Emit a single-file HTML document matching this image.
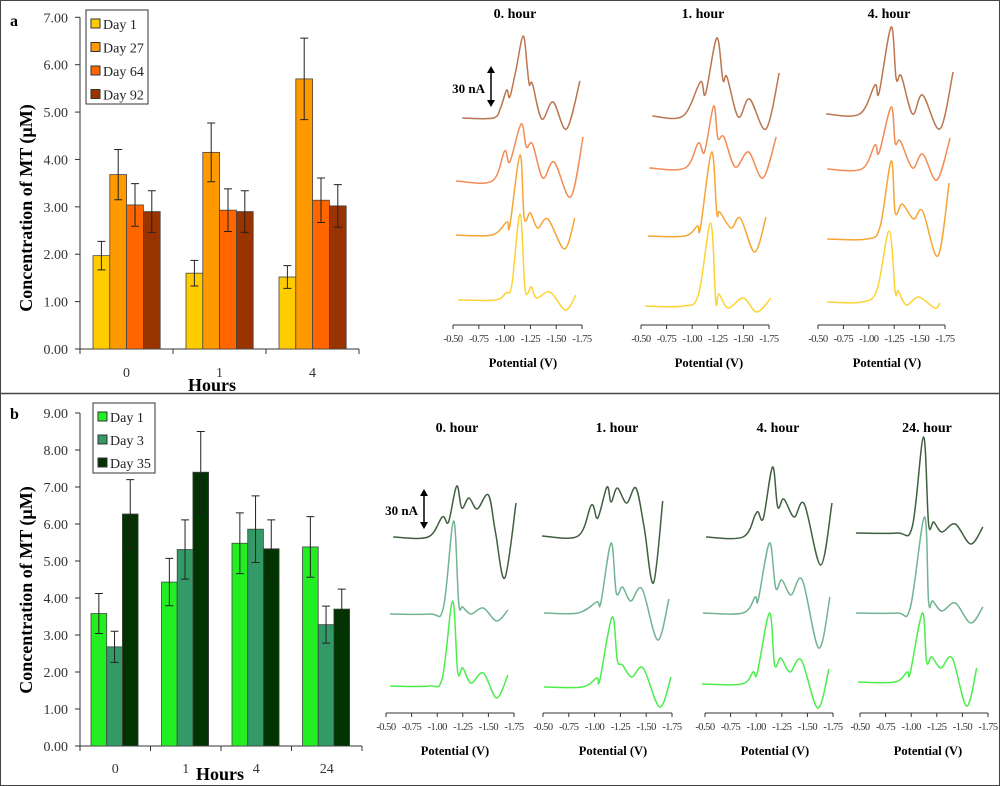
<!DOCTYPE html>
<html><head><meta charset="utf-8"><style>
html,body{margin:0;padding:0;background:#fff}
svg{display:block}
text{font-family:"Liberation Serif",serif}
</style></head><body>
<svg id="fig" width="1000" height="786" viewBox="0 0 1000 786" xmlns="http://www.w3.org/2000/svg">
<rect x="0.5" y="0.5" width="999" height="785" fill="#fff" stroke="#444" stroke-width="1"/>
<line x1="0" y1="393.5" x2="1000" y2="393.5" stroke="#444" stroke-width="1.5"/>
<text x="10" y="26" font-size="16" font-weight="bold">a</text>
<text x="10" y="419" font-size="16" font-weight="bold">b</text>
<g id="gA"></g>
<g id="gB"></g>
<g id="gV"></g>
</svg>
<script>
// ---------- Bar chart data ----------
const catsA = ["0","1","4"];
const seriesNamesA = ["Day 1","Day 27","Day 64","Day 92"];
const day1A = [1.97,1.60,1.52];
const day27A = [3.68,4.15,5.70];
const day64A = [3.04,2.93,3.14];
const day92A = [2.90,2.90,3.02];
const err1A = [0.30,0.27,0.24];
const err27A = [0.53,0.62,0.86];
const err64A = [0.45,0.45,0.47];
const err92A = [0.44,0.44,0.45];
const ticksA = ["0.00","1.00","2.00","3.00","4.00","5.00","6.00","7.00"];

const catsB = ["0","1","4","24"];
const seriesNamesB = ["Day 1","Day 3","Day 35"];
const day1B = [3.58,4.43,5.48,5.38];
const day3B = [2.68,5.31,5.86,3.28];
const day35B = [6.27,7.40,5.33,3.70];
const err1B = [0.54,0.64,0.82,0.82];
const err3B = [0.42,0.80,0.90,0.50];
const err35B = [0.93,1.10,0.78,0.54];
const ticksB = ["0.00","1.00","2.00","3.00","4.00","5.00","6.00","7.00","8.00","9.00"];

// ---------- Voltammogram data: [potential V, current a.u.] ----------
const vTicks = ["-0.50","-0.75","-1.00","-1.25","-1.50","-1.75"];
const a0c1=[[-0.59,0],[-0.89,0],[-0.96,10],[-1.02,28],[-1.05,21],[-1.11,48],[-1.18,82],[-1.22,50],[-1.24,33],[-1.27,34],[-1.36,-1],[-1.47,16],[-1.60,-11],[-1.73,37]];
const a0c2=[[-0.53,0],[-0.88,0],[-1.00,30],[-1.05,19],[-1.16,57],[-1.21,34],[-1.27,37],[-1.37,3],[-1.48,19],[-1.64,-16],[-1.76,44]];
const a0c3=[[-0.53,0],[-0.88,0],[-1.02,13],[-1.05,9],[-1.15,80],[-1.19,17],[-1.25,22],[-1.32,7],[-1.42,16],[-1.58,-14],[-1.68,17]];
const a0c4=[[-0.55,0],[-0.91,0],[-1.01,7],[-1.07,15],[-1.15,86],[-1.20,10],[-1.26,13],[-1.31,2],[-1.44,8],[-1.59,-10],[-1.69,5]];
const a1c1=[[-0.61,0],[-0.91,0],[-1.08,34],[-1.13,22],[-1.24,78],[-1.30,36],[-1.34,39],[-1.45,-1],[-1.56,17],[-1.72,-13],[-1.85,43]];
const a1c2=[[-0.58,0],[-0.93,0],[-1.06,25],[-1.12,16],[-1.21,62],[-1.25,30],[-1.31,31],[-1.42,1],[-1.55,16],[-1.69,-10],[-1.82,31]];
const a1c3=[[-0.57,0],[-0.93,0],[-1.05,10],[-1.08,8],[-1.19,84],[-1.24,23],[-1.27,24],[-1.38,8],[-1.47,18],[-1.61,-16],[-1.72,19]];
const a1c4=[[-0.54,0],[-0.91,0],[-1.06,11],[-1.18,83],[-1.23,4],[-1.26,12],[-1.35,-2],[-1.50,8],[-1.63,-6],[-1.77,8]];
const a4c1=[[-0.58,0],[-0.91,0],[-1.06,29],[-1.10,21],[-1.22,87],[-1.27,35],[-1.32,38],[-1.43,0],[-1.53,19],[-1.70,-15],[-1.83,42]];
const a4c2=[[-0.59,0],[-0.93,0],[-1.06,24],[-1.10,16],[-1.22,62],[-1.26,26],[-1.31,28],[-1.43,1],[-1.53,15],[-1.67,-11],[-1.80,31]];
const a4c3=[[-0.59,0],[-0.98,0],[-1.11,12],[-1.22,78],[-1.26,26],[-1.33,35],[-1.44,20],[-1.53,28],[-1.68,-17],[-1.79,56]];
const a4c4=[[-0.59,0],[-0.93,0],[-1.08,12],[-1.20,71],[-1.26,10],[-1.29,11],[-1.37,-3],[-1.49,5],[-1.65,-6],[-1.70,-1]];
const b0c1=[[-0.57,0],[-0.91,0],[-1.05,20],[-1.11,15],[-1.19,51],[-1.24,29],[-1.31,39],[-1.39,28],[-1.50,42],[-1.57,4],[-1.66,-41],[-1.77,34]];
const b0c2=[[-0.54,0],[-0.93,0],[-1.06,6],[-1.16,93],[-1.21,11],[-1.25,7],[-1.33,0],[-1.45,6],[-1.58,-7],[-1.69,4]];
const b0c3=[[-0.54,0],[-0.92,0],[-1.05,8],[-1.15,85],[-1.20,14],[-1.25,18],[-1.33,3],[-1.45,13],[-1.58,-12],[-1.69,11]];
const b1c1=[[-0.49,0],[-0.84,0],[-0.97,31],[-1.03,18],[-1.12,49],[-1.16,34],[-1.22,48],[-1.31,33],[-1.40,48],[-1.48,9],[-1.57,-47],[-1.66,35]];
const b1c2=[[-0.51,0],[-0.84,0],[-1.02,11],[-1.06,10],[-1.16,70],[-1.21,20],[-1.27,26],[-1.35,12],[-1.46,24],[-1.61,-27],[-1.72,14]];
const b1c3=[[-0.51,0],[-0.88,0],[-1.02,9],[-1.05,7],[-1.17,70],[-1.22,27],[-1.27,22],[-1.36,10],[-1.47,19],[-1.63,-20],[-1.74,10]];
const b4c1=[[-0.51,0],[-0.87,0],[-0.99,22],[-1.02,25],[-1.07,19],[-1.16,70],[-1.21,30],[-1.27,38],[-1.37,20],[-1.47,33],[-1.63,-28],[-1.74,34]];
const b4c2=[[-0.48,0],[-0.87,0],[-0.99,16],[-1.02,13],[-1.13,70],[-1.19,25],[-1.25,33],[-1.34,18],[-1.45,33],[-1.61,-35],[-1.72,16]];
const b4c3=[[-0.47,0],[-0.86,0],[-0.97,12],[-1.01,11],[-1.13,71],[-1.18,19],[-1.24,26],[-1.33,12],[-1.44,24],[-1.60,-24],[-1.71,15]];
const b24c1=[[-0.46,0],[-0.86,0],[-1.01,6],[-1.12,96],[-1.17,9],[-1.22,11],[-1.30,1],[-1.43,9],[-1.58,-11],[-1.70,6]];
const b24c2=[[-0.46,0],[-0.86,0],[-0.99,5],[-1.13,96],[-1.17,11],[-1.21,12],[-1.30,2],[-1.43,10],[-1.58,-10],[-1.70,6]];
const b24c3=[[-0.48,0],[-0.84,0],[-0.96,10],[-0.99,9],[-1.11,69],[-1.15,20],[-1.20,25],[-1.29,14],[-1.40,24],[-1.54,-24],[-1.64,14]];

const NS="http://www.w3.org/2000/svg";
function mk(tag,attrs,parent){const e=document.createElementNS(NS,tag);for(const k in attrs)e.setAttribute(k,attrs[k]);parent.appendChild(e);return e;}

function barChart(g,o){
  const y=v=>o.y0-(v/o.max)*(o.y0-o.yTop);
  // axes
  let ax=mk('line',{x1:o.x0,y1:o.yTop,x2:o.x0,y2:o.y0,stroke:'#333'},g);
  
  
  let bx=mk('line',{x1:o.x0-5,y1:o.y0,x2:o.x1,y2:o.y0,stroke:'#333'},g);
  
  
  o.ticks.forEach((t,i)=>{
    const yy=y(i);
    const tl=mk('line',{x1:o.x0-5,y1:yy,x2:o.x0,y2:yy,stroke:'#333'},g);
    
    
    const tx=mk('text',{x:o.x0-12,y:yy+5,'font-size':14,'text-anchor':'end',fill:'#333'},g);
    
    
    tx.textContent=t;
  });
  const n=o.cats.length, gw=(o.x1-o.x0)/n;
  for(let c=0;c<=n;c++){
    const xx=o.x0+c*gw;
    const tl=mk('line',{x1:xx,y1:o.y0,x2:xx,y2:o.y0+5,stroke:'#333'},g);
    
    
  }
  o.cats.forEach((c,i)=>{
    const tx=mk('text',{x:o.x0+gw*(i+0.5)+(o.labelShift?o.labelShift[i]:0),y:o.labY,'font-size':14,'text-anchor':'middle',fill:'#333'},g);
    
    
    tx.textContent=c;
  });
  const ns=o.series.length;
  o.series.forEach((s,si)=>{
    s.forEach((v,i)=>{
      const bx0=o.x0+gw*i+o.pad+si*o.bw;
      const r=mk('rect',{x:bx0,y:y(v),width:o.bw,height:o.y0-y(v),fill:o.colors[si],stroke:'#444','stroke-width':0.8},g);
      
      
      const e=o.errs[si][i], cx=bx0+o.bw/2;
      const el=mk('path',{d:`M${cx},${y(v+e)}V${y(v-e)}M${cx-4},${y(v+e)}H${cx+4}M${cx-4},${y(v-e)}H${cx+4}`,stroke:'#222',fill:'none','stroke-width':1},g);
      
      
    });
  });
  // legend
  const lg=mk('g',{},g);
  
  
  mk('rect',{x:o.lx,y:o.ly,width:o.lw,height:o.lh,fill:'#fff',stroke:'#333'},lg);
  o.names.forEach((nm,i)=>{
    const ey=o.ly+14+i*o.lstep;
    const en=mk('g',{},lg);
    
    
    mk('rect',{x:o.lx+5,y:ey-5,width:9,height:9,fill:o.colors[i],stroke:'#333'},en);
    const t=mk('text',{x:o.lx+17,y:ey+5,'font-size':14,fill:'#222'},en);
    t.textContent=nm;
  });
  const yt=mk('text',{x:0,y:0,'font-size':18,'font-weight':'bold','text-anchor':'middle',transform:`translate(${o.ytX},${o.ytY}) rotate(-90)`},g);
  
  
  yt.textContent='Concentration of MT (\u00b5M)';
  const xt=mk('text',{x:o.xtX,y:o.xtY,'font-size':18,'font-weight':'bold','text-anchor':'middle'},g);
  
  
  xt.textContent='Hours';
}

barChart(document.getElementById('gA'),{x0:80,x1:359,y0:349,yTop:17.3,max:7,ticks:ticksA,cats:catsA,
  series:[day1A,day27A,day64A,day92A],errs:[err1A,err27A,err64A,err92A],names:seriesNamesA,
  colors:['#ffcc00','#ff9900','#ff6600','#993300'],bw:16.8,pad:13,labY:377,
  lx:86,ly:10,lw:62,lh:94,lstep:23.5,ytX:32,ytY:208,xtX:212,xtY:391});
barChart(document.getElementById('gB'),{x0:80,x1:362,y0:746,yTop:413,max:9,ticks:ticksB,cats:catsB,
  series:[day1B,day3B,day35B],errs:[err1B,err3B,err35B],names:seriesNamesB,
  colors:['#22ee22','#339966','#003300'],bw:15.7,pad:11,labY:773,labelShift:[0,0,0,0],
  lx:93,ly:403,lw:62,lh:70,lstep:23,ytX:32,ytY:590,xtX:220,xtY:780});

function smooth(pts){
  let d=`M${pts[0][0]},${pts[0][1]}`;
  for(let i=0;i<pts.length-1;i++){
    const p0=pts[i-1]||pts[i],p1=pts[i],p2=pts[i+1],p3=pts[i+2]||p2;
    const c1=[p1[0]+(p2[0]-p0[0])/6,p1[1]+(p2[1]-p0[1])/6];
    const c2=[p2[0]-(p3[0]-p1[0])/6,p2[1]-(p3[1]-p1[1])/6];
    d+=`C${c1[0].toFixed(1)},${c1[1].toFixed(1)} ${c2[0].toFixed(1)},${c2[1].toFixed(1)} ${p2[0].toFixed(1)},${p2[1].toFixed(1)}`;
  }
  return d;
}

const gV=document.getElementById('gV');
function volt(o){
  const g=mk('g',{},gV);
  
  
  const xs=v=>o.x0+(-0.5-v)/1.25*(o.x1-o.x0);
  const ax=mk('line',{x1:o.x0,y1:o.ay,x2:o.x1,y2:o.ay,stroke:'#333'},g);
  
  
  vTicks.forEach(t=>{
    const xx=xs(parseFloat(t));
    mk('line',{x1:xx,y1:o.ay,x2:xx,y2:o.ay+4,stroke:'#333'},g);
    const tx=mk('text',{x:xx,y:o.ay+17,'font-size':10.5,'text-anchor':'middle',fill:'#333','letter-spacing':'-0.5'},g);
    
    
    tx.textContent=t;
  });
  const tt=mk('text',{x:o.tx,y:o.ty,'font-size':14,'font-weight':'bold','text-anchor':'middle'},g);
  
  
  tt.textContent=o.title;
  const pl=mk('text',{x:o.px,y:o.ay+42,'font-size':12.5,'font-weight':'bold','text-anchor':'middle'},g);
  
  
  pl.textContent='Potential (V)';
  o.curves.forEach((c,i)=>{
    const pts=c.map(p=>[xs(p[0]),o.bases[i]-p[1]]);
    const pa=mk('path',{d:smooth(pts),fill:'none',stroke:o.colors[i],'stroke-width':1.5},g);
    
    
  });
}
const colA=['#bb7650','#f28c55','#f7a535','#fcd436'];
const colB=['#3f5f3f','#72b394','#4cee4c'];
volt({id:'a-0h',title:'0. hour',x0:453,x1:582,ay:325,tx:515,ty:18,px:523,bases:[118,181,235,300],colors:colA,curves:[a0c1,a0c2,a0c3,a0c4]});
volt({id:'a-1h',title:'1. hour',x0:641,x1:769,ay:325,tx:703,ty:18,px:709,bases:[116,168,236,306],colors:colA,curves:[a1c1,a1c2,a1c3,a1c4]});
volt({id:'a-4h',title:'4. hour',x0:818,x1:945,ay:325,tx:889,ty:18,px:887,bases:[114,169,239,302],colors:colA,curves:[a4c1,a4c2,a4c3,a4c4]});
volt({id:'b-0h',title:'0. hour',x0:386,x1:514,ay:713,tx:457,ty:432,px:455,bases:[537,614,686],colors:colB,curves:[b0c1,b0c2,b0c3]});
volt({id:'b-1h',title:'1. hour',x0:543,x1:672,ay:713,tx:617,ty:432,px:613,bases:[536,613,687],colors:colB,curves:[b1c1,b1c2,b1c3]});
volt({id:'b-4h',title:'4. hour',x0:705,x1:833,ay:713,tx:778,ty:432,px:775,bases:[537,613,684],colors:colB,curves:[b4c1,b4c2,b4c3]});
volt({id:'b-24h',title:'24. hour',x0:860,x1:988,ay:713,tx:927,ty:432,px:928,bases:[533,613,682],colors:colB,curves:[b24c1,b24c2,b24c3]});

function scaleBar(x,y1,y2,tx,ty,name){
  const g=mk('g',{},gV);
  
  
  mk('line',{x1:x,y1:y1+6,x2:x,y2:y2-6,stroke:'#000','stroke-width':1.5},g);
  mk('path',{d:`M${x-4},${y1+7}L${x},${y1}L${x+4},${y1+7}Z M${x-4},${y2-7}L${x},${y2}L${x+4},${y2-7}Z`,fill:'#000'},g);
  const t=mk('text',{x:tx,y:ty,'font-size':13,'font-weight':'bold','text-anchor':'end'},g);
  t.textContent='30 nA';
}
scaleBar(491,66,107,485,93,'scale-bar-a');
scaleBar(424,489,529,418,515,'scale-bar-b');
</script>
</body></html>
